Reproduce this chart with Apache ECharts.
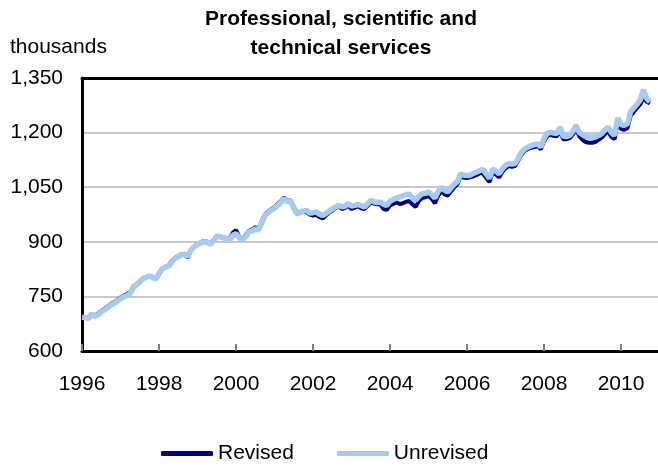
<!DOCTYPE html>
<html>
<head>
<meta charset="utf-8">
<script src="https://cdn.jsdelivr.net/npm/echarts@6/dist/echarts.min.js"></script>
<style>
html,body{margin:0;padding:0;background:#fff;}
#chart{width:658px;height:468px;}
</style>
</head>
<body>
<div id="chart"></div>
<script>
var startYear = 1996;
var xTicks = [1996, 1998, 2000, 2002, 2004, 2006, 2008, 2010];
var yTicks = [600, 750, 900, 1050, 1200, 1350];

// Monthly values, Jan 1996 .. Oct 2010 (thousands)
var revised = [
  694, 693, 691, 700, 697, 703, 710, 716, 722, 729, 734, 740,
  747, 752, 756, 762, 777, 784, 791, 800, 803, 806, 802, 798,
  813, 826, 831, 835, 848, 856, 860, 866, 864, 857, 878, 888,
  894, 899, 902, 900, 895, 905, 916, 914, 911, 910, 907, 925,
  932, 914, 906, 918, 930, 934, 940, 936, 956, 975, 983, 990,
  995, 1004, 1012, 1021, 1013, 1014, 995, 980, 982, 983, 981, 975,
  972, 974, 968, 964, 972, 980, 986, 992, 997, 990, 993, 999,
  990, 994, 998, 992, 990, 998, 1008, 1005, 1003, 1003, 990, 988,
  1000, 1004, 1008, 1004, 1006, 1010, 1012, 1003, 996, 1012, 1020, 1022,
  1026, 1018, 1006, 1026, 1040, 1030, 1027, 1038, 1050, 1058, 1080, 1076,
  1075, 1077, 1080, 1084, 1088, 1088, 1075, 1064, 1090, 1085, 1077, 1092,
  1102, 1108, 1106, 1108, 1124, 1140, 1150, 1155, 1158, 1160, 1163, 1154,
  1176, 1190, 1194, 1191, 1190, 1203, 1182, 1182, 1185, 1195, 1208, 1190,
  1180, 1174, 1172, 1172, 1174, 1180, 1186, 1196, 1203, 1188, 1182, 1228,
  1210, 1208, 1212, 1246, 1257, 1268, 1278, 1295, 1285, 1280
];
var unrevised = [
  693, 692, 689, 702, 695, 700, 708, 713, 719, 726, 731, 737,
  744, 749, 752, 758, 774, 782, 790, 799, 802, 806, 803, 797,
  812, 826, 830, 833, 845, 854, 858, 864, 866, 860, 878, 887,
  892, 897, 900, 899, 893, 903, 915, 914, 911, 909, 904, 918,
  922, 912, 904, 914, 927, 930, 936, 932, 952, 972, 980, 987,
  992, 1000, 1009, 1018, 1010, 1013, 992, 977, 980, 985, 986, 979,
  980, 982, 976, 972, 978, 984, 990, 995, 1000, 996, 998, 1005,
  998, 1000, 1003, 999, 996, 1004, 1014, 1010, 1008, 1009, 1003, 1000,
  1012, 1016, 1020, 1023, 1026, 1030, 1031, 1020, 1014, 1025, 1032, 1033,
  1037, 1030, 1020, 1038, 1050, 1042, 1037, 1048, 1058, 1066, 1087, 1083,
  1082, 1083, 1088, 1092, 1096, 1098, 1086, 1074, 1100, 1094, 1087, 1100,
  1110, 1115, 1114, 1115, 1130, 1146, 1155, 1160, 1164, 1167, 1169, 1160,
  1184, 1198, 1201, 1199, 1197, 1215, 1190, 1189, 1192, 1203, 1220, 1200,
  1194, 1189, 1188, 1187, 1188, 1192, 1197, 1207, 1215, 1200, 1192, 1240,
  1222, 1220, 1224, 1258, 1268, 1278, 1290, 1318, 1294, 1284
];

function toPairs(arr) {
  return arr.map(function (v, i) { return [startYear + i / 12, v]; });
}

var FONT = "'Liberation Sans', Arial, sans-serif";
var chart = echarts.init(document.getElementById('chart'), null, {renderer: 'canvas'});
chart.setOption({
  animation: false,
  backgroundColor: '#ffffff',
  textStyle: {fontFamily: FONT},
  title: [{
    text: 'Professional, scientific and\ntechnical services',
    left: 341, top: 5, textAlign: 'center', padding: 0,
    textStyle: {fontFamily: FONT, fontWeight: 'bold', fontSize: 21, lineHeight: 29, color: '#000'}
  }, {
    text: 'thousands',
    left: 10, top: 37, padding: 0,
    textStyle: {fontFamily: FONT, fontWeight: 'normal', fontSize: 21, color: '#000'}
  }],
  legend: {
    left: 161, top: 443, padding: 0,
    itemWidth: 52, itemHeight: 5, itemGap: 43,
    icon: 'roundRect',
    textStyle: {fontFamily: FONT, fontSize: 21, color: '#000'},
    data: ['Revised', 'Unrevised']
  },
  grid: {left: 82, top: 78, right: 0, bottom: 117, containLabel: false},
  xAxis: [{
    type: 'value',
    min: 1996, max: 2010.96,
    interval: 2,
    axisLine: {show: true, onZero: false, lineStyle: {color: '#000', width: 3}},
    axisTick: {show: true, inside: true, length: 7, customValues: xTicks, lineStyle: {color: '#7f7f7f', width: 2}},
    axisLabel: {customValues: xTicks, fontSize: 21, color: '#000', margin: 23, fontFamily: FONT,
      formatter: function (v) { return String(Math.round(v)); }},
    splitLine: {show: false}
  }, {
    type: 'value', position: 'top',
    min: 1996, max: 2010.96,
    axisLine: {show: true, lineStyle: {color: '#000', width: 3}},
    axisTick: {show: false}, axisLabel: {show: false}, splitLine: {show: false}
  }],
  yAxis: {
    type: 'value',
    min: 600, max: 1350, interval: 150,
    axisLine: {show: true, lineStyle: {color: '#000', width: 3}},
    axisTick: {show: false},
    axisLabel: {fontSize: 21, color: '#000', margin: 19, fontFamily: FONT,
      formatter: function (v) { return v.toLocaleString('en-US'); }},
    splitLine: {show: true, lineStyle: {color: '#b4b4b4', width: 1.5}}
  },
  series: [{
    name: 'Revised', type: 'line', xAxisIndex: 0,
    data: toPairs(revised),
    showSymbol: false, symbol: 'none',
    itemStyle: {color: '#000080'},
    lineStyle: {color: '#000080', width: 4},
    z: 2
  }, {
    name: 'Unrevised', type: 'line', xAxisIndex: 0,
    data: toPairs(unrevised),
    showSymbol: false, symbol: 'none',
    itemStyle: {color: '#a6caf0'},
    lineStyle: {color: '#a6caf0', width: 5.5},
    z: 3
  }]
});
</script>
</body>
</html>
